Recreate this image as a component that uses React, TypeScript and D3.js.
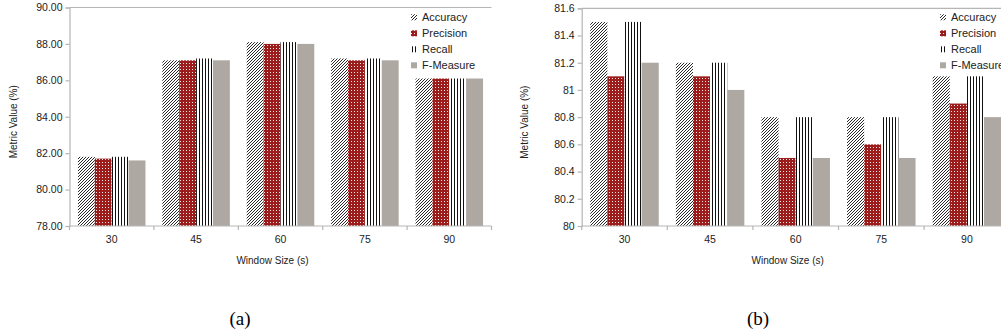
import { useRef, useEffect } from 'react';
import * as d3 from 'd3';

const categories = ['30', '45', '60', '75', '90'];
const seriesNames = ['Accuracy', 'Precision', 'Recall', 'F-Measure'];

// panel (a)
const accuracyA = [81.8, 87.1, 88.1, 87.2, 86.1];
const precisionA = [81.7, 87.1, 88.0, 87.1, 86.1];
const recallA = [81.8, 87.2, 88.1, 87.2, 86.1];
const fMeasureA = [81.6, 87.1, 88.0, 87.1, 86.1];
const yTicksA = [78, 80, 82, 84, 86, 88, 90];

// panel (b)
const accuracyB = [81.5, 81.2, 80.8, 80.8, 81.1];
const precisionB = [81.1, 81.1, 80.5, 80.6, 80.9];
const recallB = [81.5, 81.2, 80.8, 80.8, 81.1];
const fMeasureB = [81.2, 81.0, 80.5, 80.5, 80.8];
const yTicksB = [80, 80.2, 80.4, 80.6, 80.8, 81, 81.2, 81.4, 81.6];

const fills = ['url(#pAcc)', 'url(#pPrec)', 'url(#pRec)', '#aea8a2'];
const axisColor = '#b5b5b5';
const FONT = '"Liberation Sans", Arial, sans-serif';

function drawPanel(svg, opts) {
  const { left, right, top, bottom, series, ticks, fmt, yLabelX, legendX, caption, captionX } = opts;
  const g = svg.append('g');

  const x0 = d3.scaleBand().domain(categories).range([left, right]).padding(0);
  const bw = x0.bandwidth();
  const x1 = d3.scaleBand().domain(seriesNames).range([bw * 0.1, bw * 0.9]).padding(0);
  const y = d3.scaleLinear().domain([ticks[0], ticks[ticks.length - 1]]).range([bottom, top]);

  // top border line
  g.append('line')
    .attr('x1', left).attr('x2', right).attr('y1', top).attr('y2', top)
    .attr('stroke', axisColor).attr('stroke-width', 1.2);

  // bars
  seriesNames.forEach((name, si) => {
    g.append('g').selectAll('rect')
      .data(series[si])
      .join('rect')
      .attr('x', (d, i) => x0(categories[i]) + x1(name))
      .attr('y', d => y(d))
      .attr('width', x1.bandwidth())
      .attr('height', d => y(ticks[0]) - y(d))
      .attr('fill', fills[si]);
  });

  // y axis
  g.append('g')
    .attr('transform', `translate(${left},0)`)
    .call(d3.axisLeft(y).tickValues(ticks).tickFormat(fmt).tickSize(4).tickPadding(3))
    .call(a => a.select('.domain').attr('stroke', axisColor).attr('stroke-width', 1.2))
    .call(a => a.selectAll('.tick line').attr('stroke', axisColor).attr('stroke-width', 1.2))
    .call(a => a.selectAll('.tick text').attr('fill', '#222').attr('font-size', '10.5px').attr('font-family', FONT));

  // x axis: labels at band centres, ticks at band edges
  const xa = g.append('g').attr('transform', `translate(0,${bottom})`);
  xa.append('line')
    .attr('x1', left).attr('x2', right).attr('stroke', axisColor).attr('stroke-width', 1.2);
  xa.selectAll('line.tk')
    .data(d3.range(categories.length + 1))
    .join('line')
    .attr('class', 'tk')
    .attr('x1', i => left + i * bw).attr('x2', i => left + i * bw)
    .attr('y1', 0).attr('y2', 4)
    .attr('stroke', axisColor).attr('stroke-width', 1.2);
  xa.selectAll('text')
    .data(categories)
    .join('text')
    .attr('x', d => x0(d) + bw / 2)
    .attr('y', 17)
    .attr('text-anchor', 'middle')
    .attr('fill', '#222')
    .attr('font-size', '10.5px')
    .attr('font-family', FONT)
    .text(d => d);

  // axis titles
  g.append('text')
    .attr('x', (left + right) / 2 - 8)
    .attr('y', 264)
    .attr('text-anchor', 'middle')
    .attr('font-size', '10px')
    .attr('font-family', FONT)
    .attr('fill', '#222')
    .text('Window Size (s)');
  g.append('text')
    .attr('transform', `translate(${yLabelX},${(top + bottom) / 2 + 5}) rotate(-90)`)
    .attr('text-anchor', 'middle')
    .attr('font-size', '10px')
    .attr('font-family', FONT)
    .attr('fill', '#222')
    .text('Metric Value (%)');

  // legend
  const lg = g.append('g').attr('transform', `translate(${legendX},0)`);
  seriesNames.forEach((name, si) => {
    const cy = 17.3 + si * 16;
    lg.append('rect')
      .attr('x', 0).attr('y', cy - 3).attr('width', 6).attr('height', 6)
      .attr('fill', fills[si]);
    lg.append('text')
      .attr('x', 11).attr('y', cy + 4)
      .attr('font-size', '11px')
      .attr('font-family', FONT)
      .attr('fill', '#222')
      .text(name);
  });

  // caption
  g.append('text')
    .attr('x', captionX)
    .attr('y', 325)
    .attr('text-anchor', 'middle')
    .attr('font-size', '19px')
    .attr('font-family', '"Liberation Serif", "Times New Roman", serif')
    .attr('fill', '#000')
    .text(caption);
}

export default function App() {
  const svgRef = useRef(null);

  useEffect(() => {
    const svg = d3.select(svgRef.current);
    svg.selectAll('*').remove();

    const defs = svg.append('defs');
    const pAcc = defs.append('pattern')
      .attr('id', 'pAcc').attr('patternUnits', 'userSpaceOnUse')
      .attr('width', 3).attr('height', 3);
    pAcc.append('rect').attr('width', 3).attr('height', 3).attr('fill', '#fff');
    pAcc.append('path')
      .attr('d', 'M-1,1 L1,-1 M0,3 L3,0 M2,4 L4,2')
      .attr('stroke', '#111').attr('stroke-width', 0.9);

    const pPrec = defs.append('pattern')
      .attr('id', 'pPrec').attr('patternUnits', 'userSpaceOnUse')
      .attr('width', 3).attr('height', 3);
    pPrec.append('rect').attr('width', 3).attr('height', 3).attr('fill', '#9c1c1c');
    pPrec.append('rect').attr('x', 0).attr('y', 0).attr('width', 1).attr('height', 1).attr('fill', '#f4e6e6');

    const pRec = defs.append('pattern')
      .attr('id', 'pRec').attr('patternUnits', 'userSpaceOnUse')
      .attr('width', 3).attr('height', 3);
    pRec.append('rect').attr('width', 3).attr('height', 3).attr('fill', '#fff');
    pRec.append('rect').attr('x', 1).attr('y', 0).attr('width', 1).attr('height', 3).attr('fill', '#111');

    drawPanel(svg, {
      left: 69.5, right: 491.5, top: 7.5, bottom: 226,
      series: [accuracyA, precisionA, recallA, fMeasureA],
      ticks: yTicksA, fmt: d3.format('.2f'),
      yLabelX: 17, legendX: 411, caption: '(a)', captionX: 240,
    });
    drawPanel(svg, {
      left: 581.7, right: 1009.7, top: 8.3, bottom: 226,
      series: [accuracyB, precisionB, recallB, fMeasureB],
      ticks: yTicksB, fmt: d => String(+d.toFixed(1)),
      yLabelX: 528, legendX: 940, caption: '(b)', captionX: 758,
    });
  }, []);

  return (
    <svg
      ref={svgRef}
      width={1001}
      height={335}
      style={{ position: 'absolute', left: 0, top: 0, background: '#fff' }}
    />
  );
}
